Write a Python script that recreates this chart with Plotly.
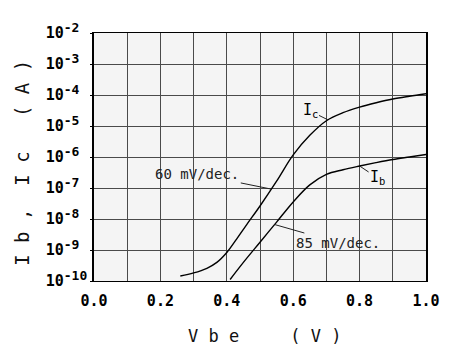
import numpy as np
import plotly.graph_objects as go

# Collector current Ic vs Vbe
vbe_c = [0.26, 0.30, 0.34, 0.37, 0.40, 0.43, 0.46, 0.50, 0.55, 0.60, 0.65, 0.70, 0.75, 0.80, 0.85, 0.90, 0.95, 1.00]
ic = [1.45e-10, 1.82e-10, 2.57e-10, 3.98e-10, 8.32e-10, 2.29e-9, 6.61e-9, 2.63e-8, 1.66e-7,
      1.17e-6, 5.01e-6, 1.48e-5, 2.69e-5, 4.07e-5, 5.62e-5, 7.41e-5, 9.12e-5, 1.10e-4]

# Base current Ib vs Vbe
vbe_b = [0.41, 0.45, 0.50, 0.55, 0.60, 0.65, 0.70, 0.75, 0.80, 0.85, 0.90, 0.95, 1.00]
ib = [1.12e-10, 3.98e-10, 1.78e-9, 7.94e-9, 3.55e-8, 1.26e-7, 2.75e-7, 3.89e-7,
      5.13e-7, 6.61e-7, 8.32e-7, 1.00e-6, 1.20e-6]

x_ticks = [0.0, 0.1, 0.2, 0.3, 0.4, 0.5, 0.6, 0.7, 0.8, 0.9, 1.0]
x_ticktext = ["0.0", "", "0.2", "", "0.4", "", "0.6", "", "0.8", "", "1.0"]
y_exps = [-10, -9, -8, -7, -6, -5, -4, -3, -2]

MONO = "DejaVu Sans Mono"


def on_curve_log(xv, xs, ys):
    # annotation positions on a log axis are given in log10 units
    return float(np.interp(xv, xs, np.log10(ys)))


def y_label(e):
    s = str(e)
    pad = "\u00a0" * (3 - len(s))
    return f"10<sup><span style='font-size:13px'>{s}{pad}</span></sup>"


fig = go.Figure()
fig.add_trace(go.Scatter(x=vbe_c, y=ic, mode="lines", name="Ic",
                         line=dict(color="black", width=1.4, shape="spline", smoothing=1.0)))
fig.add_trace(go.Scatter(x=vbe_b, y=ib, mode="lines", name="Ib",
                         line=dict(color="black", width=1.4, shape="spline", smoothing=1.0)))

ann_font = dict(family=MONO, size=14, color="#222")
annotations = [
    dict(x=0.705, y=on_curve_log(0.705, vbe_c, ic), text="I<sub>c</sub>", ax=-18, ay=-9,
         font=dict(family=MONO, size=15, color="black")),
    dict(x=0.80, y=on_curve_log(0.80, vbe_b, ib), text="I<sub>b</sub>", ax=18, ay=12,
         font=dict(family=MONO, size=15, color="black")),
    dict(x=0.534, y=on_curve_log(0.534, vbe_c, ic), text="60 mV/dec.", ax=-74, ay=-15,
         font=ann_font),
    dict(x=0.544, y=on_curve_log(0.544, vbe_b, ib), text="85 mV/dec.", ax=63, ay=18,
         font=ann_font),
]
for a in annotations:
    a.update(xref="x", yref="y", showarrow=True, arrowhead=0, arrowwidth=1,
             arrowcolor="#222", standoff=0)

# axis titles as paper annotations for precise placement
annotations.append(dict(text="V b e     ( V )", xref="paper", yref="paper",
                        x=0.515, y=-0.22, showarrow=False, xanchor="center", yanchor="middle",
                        font=dict(family=MONO, size=17, color="#111")))
annotations.append(dict(text="I b ,  I c   ( A )", xref="paper", yref="paper",
                        x=-0.215, y=0.475, showarrow=False, textangle=-90,
                        xanchor="center", yanchor="middle",
                        font=dict(family=MONO, size=19, color="#111")))

# the page body adds an 8px offset; the figure is sized so the plot area lands
# where the reference has it (x 94..436, y 27..281)
fig.update_layout(
    width=444, height=343,
    margin=dict(l=86, r=16, t=19, b=70),
    paper_bgcolor="white",
    plot_bgcolor="#f4f4f4",
    showlegend=False,
    annotations=annotations,
)
fig.update_xaxes(
    range=[0, 1], tickvals=x_ticks, ticktext=x_ticktext,
    showgrid=True, gridcolor="#4a4a4a", gridwidth=1,
    showline=True, linecolor="black", linewidth=1.2, mirror=True,
    ticks="", ticklabelstandoff=6, zeroline=False,
    tickfont=dict(family=MONO, size=15, color="black", weight="bold"),
)
fig.update_yaxes(
    type="log", range=[-10, -2],
    tickvals=[10.0 ** e for e in y_exps],
    ticktext=[y_label(e) for e in y_exps],
    showgrid=True, gridcolor="#4a4a4a", gridwidth=1,
    showline=True, linecolor="black", linewidth=1.5, mirror=True,
    ticks="outside", ticklen=2, tickcolor="black",
    tickfont=dict(family=MONO, size=15, color="black", weight="bold"),
)

fig.write_html("out.html")
